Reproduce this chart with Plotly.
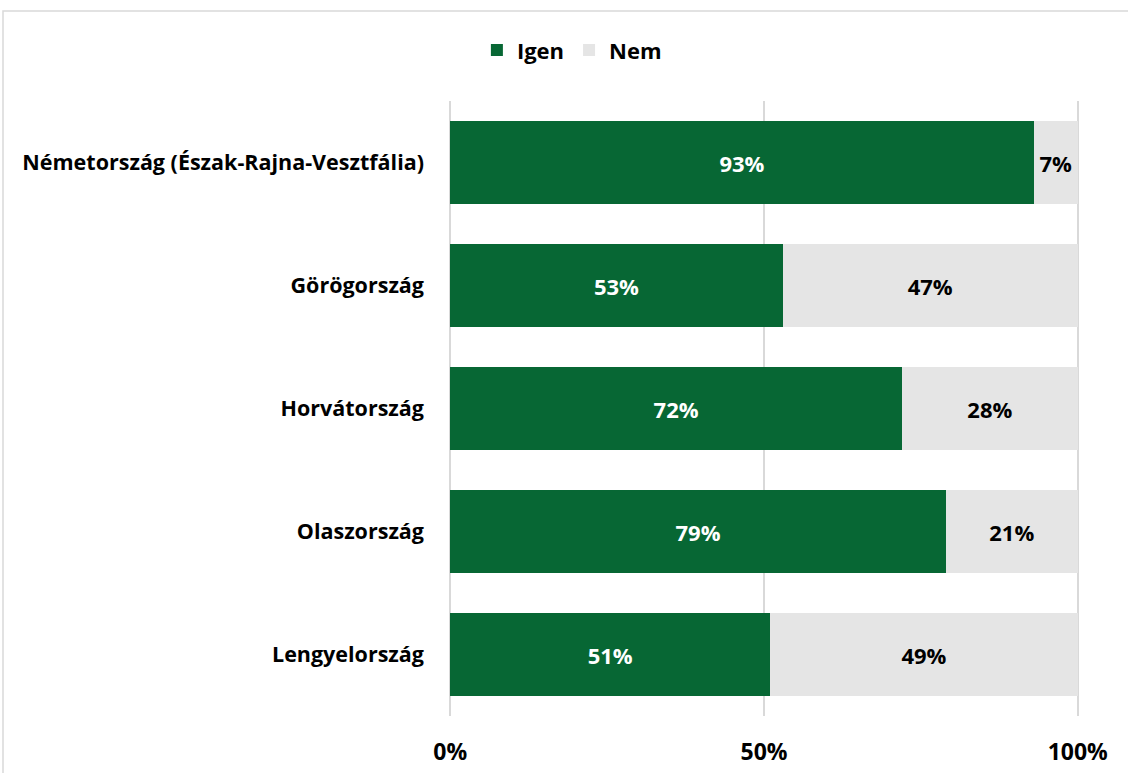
import plotly.graph_objects as go

categories = ["Németország (Észak-Rajna-Vesztfália)", "Görögország", "Horvátország", "Olaszország", "Lengyelország"]
igen = [93, 53, 72, 79, 51]
nem = [7, 47, 28, 21, 49]
tick_vals = [0, 50, 100]
tick_text = ["0%", "50%", "100%"]

GREEN = "#076734"
GRAY = "#e5e5e5"
FONT = "Open Sans"

fig = go.Figure()
fig.add_trace(go.Bar(
    y=categories, x=igen, name="Igen", orientation="h",
    marker=dict(color=GREEN, line=dict(width=0)),
    text=[f"{v}%" for v in igen], textposition="inside", insidetextanchor="middle",
    textfont=dict(color="white", size=22, family=FONT, weight="bold"),
    hoverinfo="skip",
))
fig.add_trace(go.Bar(
    y=categories, x=nem, name="Nem", orientation="h",
    marker=dict(color=GRAY, line=dict(width=0)),
    text=[f"{v}%" for v in nem], textposition="inside", insidetextanchor="middle",
    textfont=dict(color="black", size=22, family=FONT, weight="bold"),
    hoverinfo="skip",
))

fig.update_layout(
    width=1128, height=773,
    barmode="stack", bargap=0.333,
    paper_bgcolor="white", plot_bgcolor="white",
    margin=dict(l=449, r=49, t=101, b=57, autoexpand=False),
    font=dict(family=FONT, size=21, color="black", weight="bold"),
    uniformtext=dict(mode="show", minsize=10),
    legend=dict(orientation="h", xref="container", yref="container",
                x=0.507, y=0.935, xanchor="center", yanchor="middle",
                font=dict(size=22, family=FONT, weight="bold"),
                itemwidth=30, traceorder="normal"),
    xaxis=dict(range=[-0.2, 100.2], tickvals=tick_vals, ticktext=tick_text,
               showgrid=True, gridcolor="#d9d9d9", gridwidth=1.5,
               zeroline=False, showline=False, ticks="", ticklabelstandoff=20,
               tickfont=dict(size=23, family=FONT, weight="bold")),
    yaxis=dict(categoryorder="array", categoryarray=categories[::-1],
               showgrid=False, ticks="", ticklabelstandoff=24,
               tickfont=dict(size=21.5, family=FONT, weight="bold")),
    shapes=[dict(type="rect", xref="paper", yref="paper",
                 x0=(3 - 449) / 630, x1=(1135 - 449) / 630,
                 y0=(716 - 780) / 615, y1=(716 - 11) / 615,
                 line=dict(color="#d9d9d9", width=1.5), fillcolor="rgba(0,0,0,0)",
                 layer="below")],
)

fig.write_html("out.html", config={"displayModeBar": False},
               post_script="document.body.style.margin='0';")
